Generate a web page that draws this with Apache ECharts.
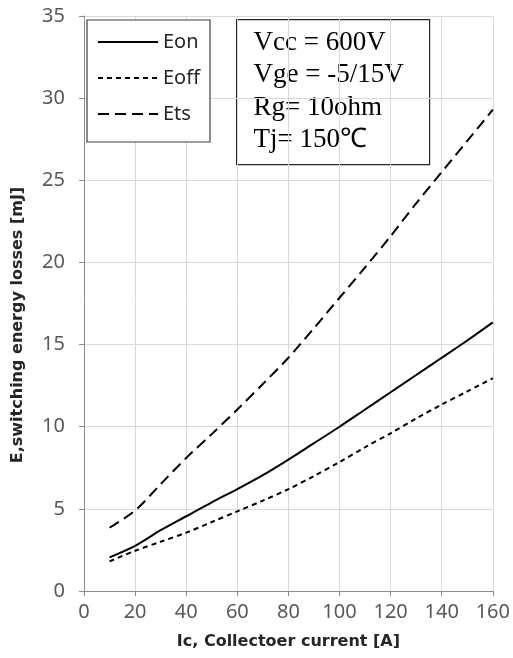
<!DOCTYPE html>
<html>
<head>
<meta charset="utf-8">
<script src="https://cdn.jsdelivr.net/npm/echarts@6/dist/echarts.min.js"></script>
<style>
  html, body { margin: 0; padding: 0; background: #fff; }
  #chart { width: 513px; height: 658px; }
</style>
</head>
<body>
<div id="chart"></div>
<script>
// collector current [A]
const ic = [10, 20, 30, 40, 50, 60, 70, 80, 90, 100, 110, 120, 130, 140, 150, 160]
const eon = [2.05, 2.75, 3.7, 4.55, 5.4, 6.2, 7.05, 8.0, 9.0, 10.0, 11.05, 12.1, 13.15, 14.2, 15.25, 16.35]
const eoff = [1.8, 2.45, 3.0, 3.55, 4.2, 4.85, 5.5, 6.2, 7.0, 7.85, 8.75, 9.6, 10.5, 11.35, 12.15, 12.95]
const ets = [3.85, 4.9, 6.5, 8.1, 9.55, 11.05, 12.6, 14.2, 16.0, 17.85, 19.7, 21.6, 23.6, 25.5, 27.4, 29.3]
const conditions = ['Vcc = 600V', 'Vge = -5/15V', 'Rg= 10ohm', 'Tj= 150\u2103']

const pairs = ys => ic.map((x, i) => [x, ys[i]])
const axisGray = '#8c8c8c'
const gridGray = '#d9d9d9'
const labelStyle = { color: '#595959', fontSize: 20, fontFamily: 'Noto Sans' }
const titleStyle = { fontSize: 16, fontWeight: 'bold', color: '#262626', fontFamily: 'DejaVu Sans' }

const chart = echarts.init(document.getElementById('chart'))
chart.setOption({
  animation: false,
  backgroundColor: '#fff',
  grid: { left: 84, right: 20, top: 16, bottom: 67 },
  xAxis: {
    type: 'value', min: 0, max: 160, interval: 20,
    name: 'Ic, Collectoer current [A]',
    nameLocation: 'middle', nameGap: 43,
    nameTextStyle: titleStyle,
    axisLine: { show: true, lineStyle: { color: axisGray } },
    axisTick: { show: true, length: 5, lineStyle: { color: axisGray } },
    axisLabel: Object.assign({ margin: 11 }, labelStyle),
    splitLine: { show: true, lineStyle: { color: gridGray } }
  },
  yAxis: {
    type: 'value', min: 0, max: 35, interval: 5,
    name: 'E,switching energy losses [mJ]',
    nameLocation: 'middle', nameGap: 58, nameRotate: 90,
    nameTextStyle: Object.assign({ padding: [0, 43, 0, 0] }, titleStyle),
    axisLine: { show: true, lineStyle: { color: axisGray } },
    axisTick: { show: true, length: 5, lineStyle: { color: axisGray } },
    axisLabel: Object.assign({ margin: 19 }, labelStyle),
    splitLine: { show: true, lineStyle: { color: gridGray } }
  },
  legend: {
    orient: 'vertical',
    left: 87, top: 20,
    padding: [12, 10, 18, 10],
    itemWidth: 60, itemHeight: 14, itemGap: 16,
    itemStyle: { opacity: 0 },
    backgroundColor: '#fff',
    borderColor: '#404040', borderWidth: 1.2, borderRadius: 0,
    textStyle: { fontSize: 20, color: '#262626', fontFamily: 'Noto Sans' },
    data: ['Eon', 'Eoff', 'Ets']
  },
  graphic: [{
    type: 'group', left: 236, top: 19,
    children: [
      { type: 'rect', shape: { x: 0, y: 0, width: 193, height: 145 },
        style: { fill: '#fff', stroke: '#262626', lineWidth: 1.2 } },
      { type: 'text', x: 17, y: 7,
        style: { text: conditions.join('\n'), fill: '#000', fontSize: 27, lineHeight: 32.5,
                 fontFamily: 'Liberation Serif' } }
    ]
  }],
  series: [
    { name: 'Eon', type: 'line', data: pairs(eon), symbol: 'none', smooth: 0.3,
      lineStyle: { color: '#000', width: 2, type: 'solid' } },
    { name: 'Eoff', type: 'line', data: pairs(eoff), symbol: 'none', smooth: 0.3,
      lineStyle: { color: '#000', width: 2, type: [5, 4] } },
    { name: 'Ets', type: 'line', data: pairs(ets), symbol: 'none', smooth: 0.3,
      lineStyle: { color: '#000', width: 2, type: [11, 6] } }
  ]
})
</script>
</body>
</html>
